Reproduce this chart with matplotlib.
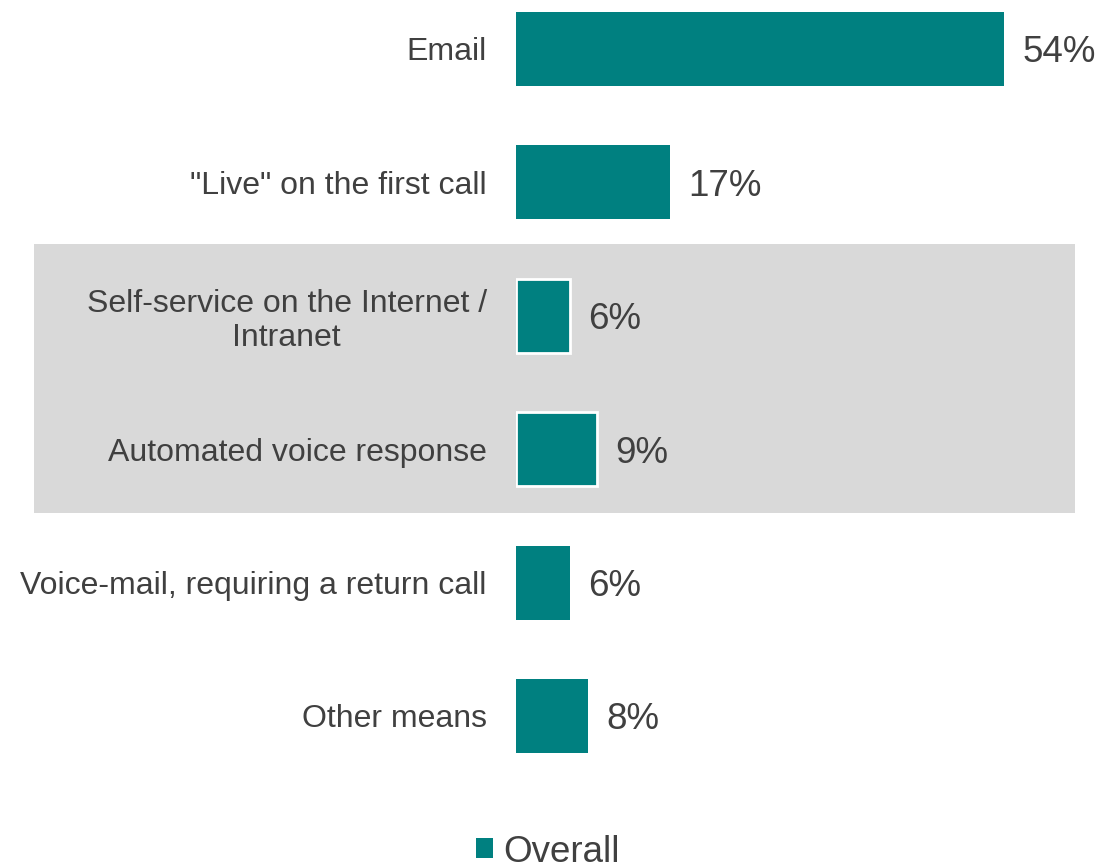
import matplotlib.pyplot as plt
from matplotlib.patches import Rectangle
from matplotlib import transforms

plt.rcParams['font.family'] = ['Liberation Sans', 'DejaVu Sans']

categories = ["Email", '"Live" on the first call', "Self-service on the Internet /\nIntranet",
              "Automated voice response", "Voice-mail, requiring a return call", "Other means"]
overall = [54, 17, 6, 9, 6, 8]
highlighted = [2, 3]

teal = "#008080"
txt = "#404040"

fig = plt.figure(figsize=(10.99, 8.66), dpi=100)
ax = fig.add_axes([516/1099, 100/866, 559/1099, 766/866])

ypos = list(range(len(categories)))
bars = ax.barh(ypos, overall, height=0.555, color=teal, label="Overall", zorder=3)
for i in highlighted:
    bars[i].set_edgecolor("white")
    bars[i].set_linewidth(2)

ax.set_xlim(0, 61.8)
ax.set_ylim(5.375, -0.367)

# grey band behind the two highlighted rows, running across the figure width
tr = transforms.blended_transform_factory(fig.transFigure, ax.transData)
band = Rectangle((34/1099, 1.462), (1075-34)/1099, 3.478-1.462, transform=tr,
                 facecolor="#d9d9d9", edgecolor="none", zorder=0, clip_on=False)
ax.add_patch(band)

ax.set_yticks(ypos)
ax.set_yticklabels(categories, fontsize=23, color=txt, multialignment="center",
                   linespacing=1.15)
ax.tick_params(axis="y", length=0, pad=21)
ax.set_xticks([])
for s in ax.spines.values():
    s.set_visible(False)
ax.patch.set_visible(False)

for y, v in zip(ypos, overall):
    ax.annotate(f"{v}%", (v, y), xytext=(13, 0), textcoords="offset points",
                ha="left", va="center_baseline", fontsize=26.5, color=txt)

fig.legend(handles=[bars], labels=["Overall"], loc="center",
           bbox_to_anchor=(548/1099, 1 - 852/866), frameon=False,
           fontsize=26.5, handlelength=0.45, handleheight=0.45,
           handletextpad=0.3, labelcolor=txt)

fig.savefig("out.png", dpi=100)
